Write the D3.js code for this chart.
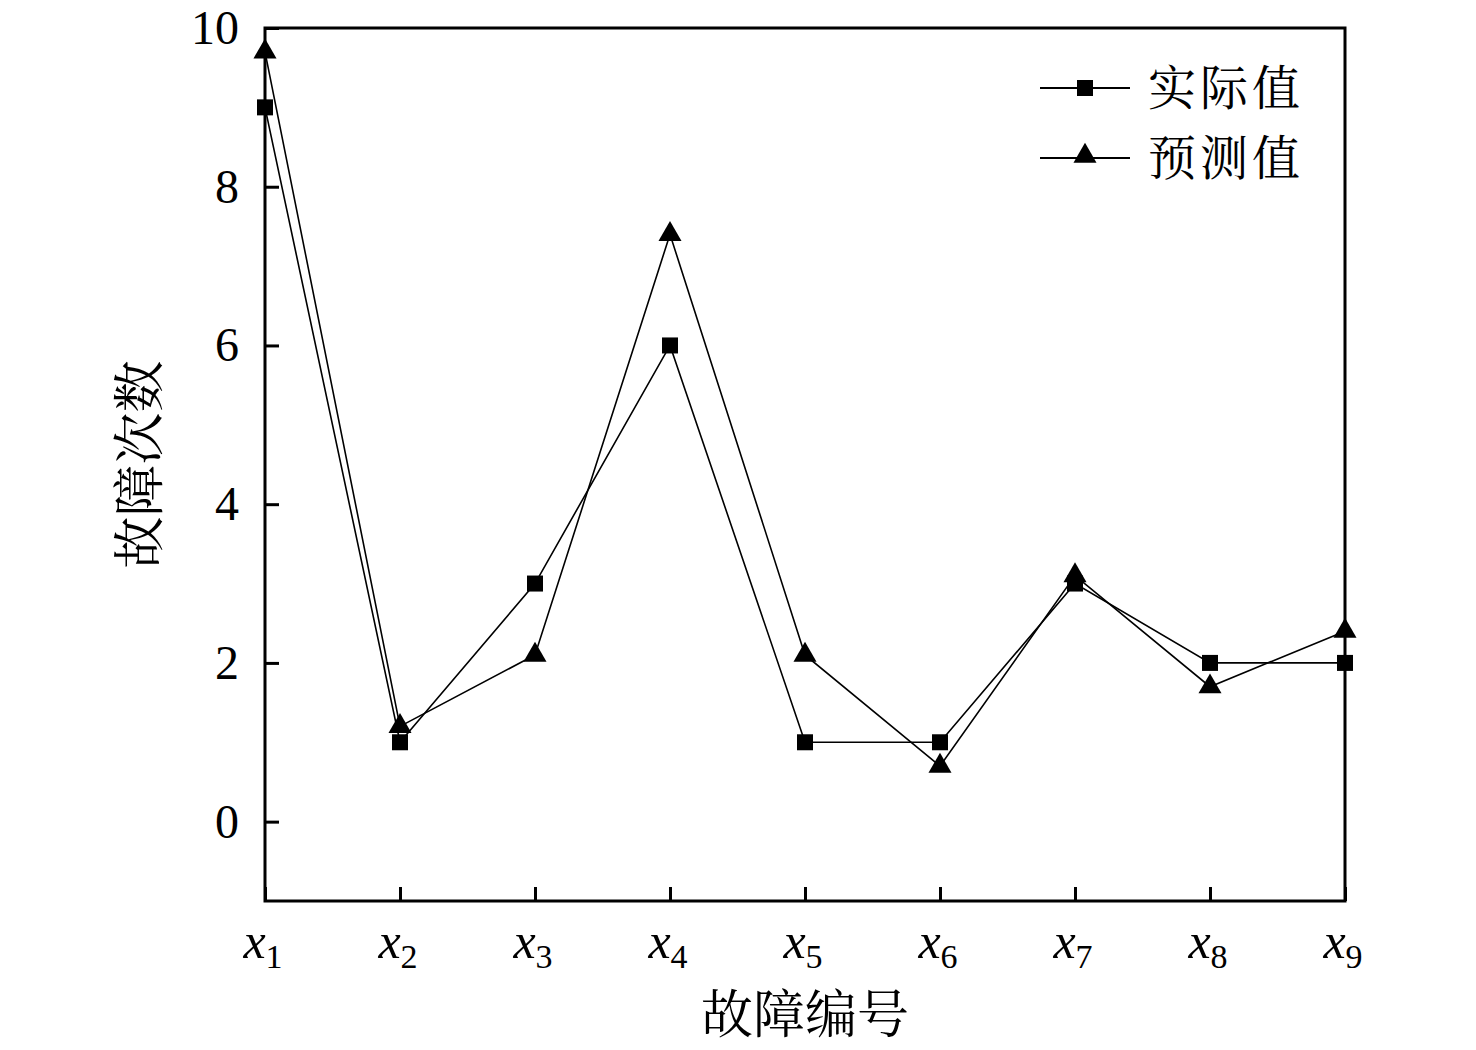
<!DOCTYPE html>
<html>
<head>
<meta charset="utf-8">
<script src="https://cdn.jsdelivr.net/npm/d3@7"></script>
<style>
  body { margin: 0; background: #fff; }
  text { fill: #000; }
  .num { font-family: 'Liberation Serif', 'DejaVu Serif', serif; }
  .cjk { font-family: 'Noto Serif CJK SC', 'Noto Sans CJK SC', sans-serif; }
</style>
</head>
<body>
<div id="chart"></div>
<script>
const categories = ['1', '2', '3', '4', '5', '6', '7', '8', '9'];
const actualValues = [9, 1, 3, 6, 1, 1, 3, 2, 2];
const predictedValues = [9.7, 1.2, 2.1, 7.4, 2.1, 0.7, 3.1, 1.7, 2.4];
const yTicks = [0, 2, 4, 6, 8, 10];
const seriesNames = ['实际值', '预测值'];

const width = 1476, height = 1050;
const margin = {top: 28, right: 131, bottom: 149, left: 265};

const svg = d3.select('#chart').append('svg')
    .attr('width', width)
    .attr('height', height);

const x = d3.scalePoint()
    .domain(categories)
    .range([margin.left, width - margin.right]);

const y = d3.scaleLinear()
    .domain([-1, 10])
    .range([height - margin.bottom, margin.top]);

// frame
svg.append('rect')
    .attr('x', x.range()[0])
    .attr('y', y(10))
    .attr('width', x.range()[1] - x.range()[0])
    .attr('height', y(-1) - y(10))
    .attr('fill', 'none')
    .attr('stroke', '#000')
    .attr('stroke-width', 3);

// y axis (ticks inward)
const yAxis = svg.append('g')
    .attr('transform', `translate(${x.range()[0]},0)`)
    .call(d3.axisLeft(y).tickValues(yTicks).tickSizeInner(-14).tickSizeOuter(0).tickPadding(26));
yAxis.attr('font-family', null).attr('font-size', null);
yAxis.select('.domain').remove();
yAxis.selectAll('.tick line').attr('stroke-width', 3);
yAxis.selectAll('.tick text')
    .attr('class', 'num')
    .attr('font-size', 48)
    .attr('fill', '#000');

// x axis (ticks inward)
const xAxis = svg.append('g')
    .attr('transform', `translate(0,${y(-1)})`)
    .call(d3.axisBottom(x).tickSizeInner(-14).tickSizeOuter(0).tickFormat(''));
xAxis.select('.domain').remove();
xAxis.selectAll('.tick line').attr('stroke-width', 3);

const xLabels = svg.append('g').selectAll('text')
    .data(categories)
    .join('text')
    .attr('class', 'num')
    .attr('x', d => x(d) - 2)
    .attr('y', y(-1) + 57)
    .attr('text-anchor', 'middle')
    .attr('font-size', 50);
xLabels.append('tspan').attr('font-style', 'italic').text('x');
xLabels.append('tspan').attr('font-size', 34).attr('dy', 10).text(d => d);

// axis titles
svg.append('text')
    .attr('class', 'cjk')
    .attr('transform', `translate(158,${(y(-1) + y(10)) / 2}) rotate(-90)`)
    .attr('text-anchor', 'middle')
    .attr('font-size', 52)
    .text('故障次数');

svg.append('text')
    .attr('class', 'cjk')
    .attr('x', (x.range()[0] + x.range()[1]) / 2)
    .attr('y', 1033)
    .attr('text-anchor', 'middle')
    .attr('font-size', 52)
    .text('故障编号');

// series
const line = d3.line().x((d, i) => x(categories[i])).y(d => y(d));
const tri = d3.symbol().type(d3.symbolTriangle).size(230);

svg.append('path')
    .datum(actualValues)
    .attr('d', line)
    .attr('fill', 'none')
    .attr('stroke', '#000')
    .attr('stroke-width', 1.6);

svg.append('path')
    .datum(predictedValues)
    .attr('d', line)
    .attr('fill', 'none')
    .attr('stroke', '#000')
    .attr('stroke-width', 1.6);

svg.append('g').selectAll('rect')
    .data(actualValues)
    .join('rect')
    .attr('x', (d, i) => x(categories[i]) - 8)
    .attr('y', d => y(d) - 8)
    .attr('width', 16)
    .attr('height', 16)
    .attr('fill', '#000');

svg.append('g').selectAll('path')
    .data(predictedValues)
    .join('path')
    .attr('transform', (d, i) => `translate(${x(categories[i])},${y(d)})`)
    .attr('d', tri)
    .attr('fill', '#000');

// legend
const legend = svg.append('g').attr('transform', 'translate(1040,0)');
const legendRows = [88, 158];
seriesNames.forEach((name, i) => {
  const g = legend.append('g').attr('transform', `translate(0,${legendRows[i]})`);
  g.append('line')
      .attr('x1', 0).attr('x2', 90)
      .attr('stroke', '#000').attr('stroke-width', 2);
  if (i === 0) {
    g.append('rect').attr('x', 37).attr('y', -8).attr('width', 16).attr('height', 16).attr('fill', '#000');
  } else {
    g.append('path').attr('transform', 'translate(45,-2)').attr('d', tri).attr('fill', '#000');
  }
  g.append('text')
      .attr('class', 'cjk')
      .attr('x', 108)
      .attr('y', 17)
      .attr('font-size', 48)
      .attr('letter-spacing', 4)
      .text(name);
});
</script>
</body>
</html>
